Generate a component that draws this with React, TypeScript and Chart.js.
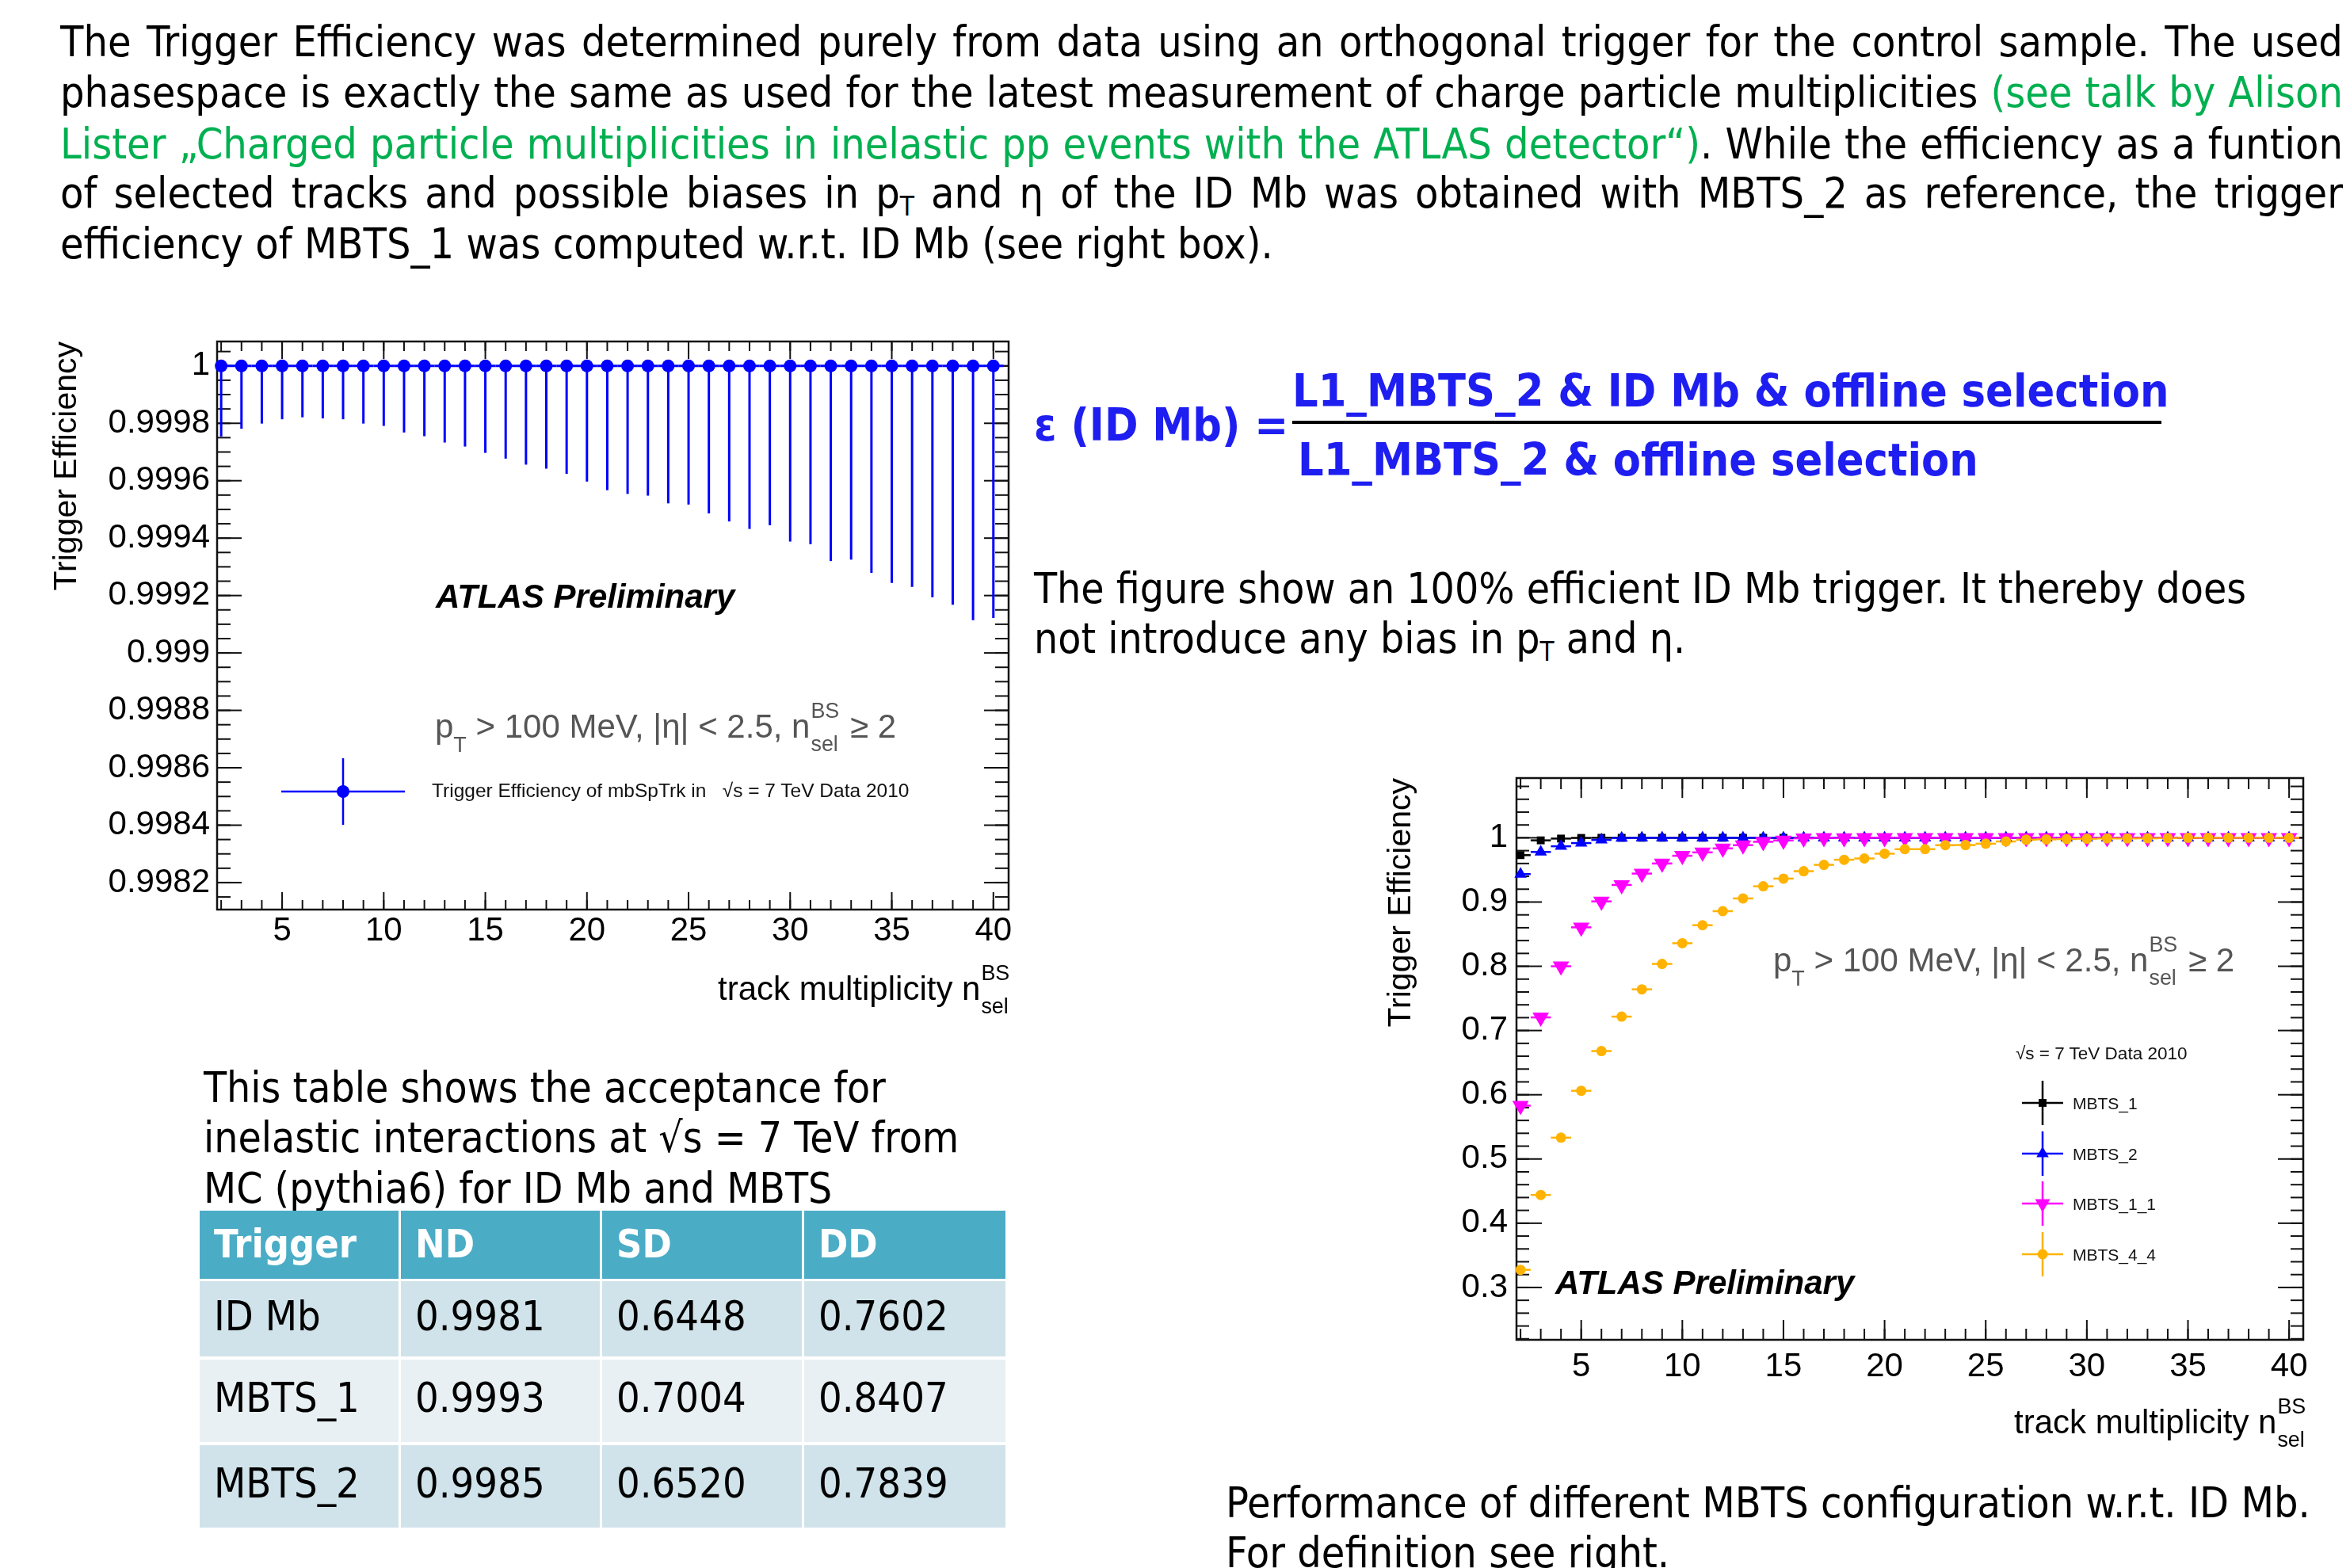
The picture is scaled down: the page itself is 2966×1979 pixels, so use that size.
import React, { useEffect, useRef } from 'react';
import { Chart, registerables } from 'chart.js';

Chart.register(...registerables);

// ------------------------------------------------------------------ data
const N_SEL = [2, 3, 4, 5, 6, 7, 8, 9, 10, 11, 12, 13, 14, 15, 16, 17, 18, 19, 20, 21, 22, 23, 24, 25, 26, 27, 28, 29, 30, 31, 32, 33, 34, 35, 36, 37, 38, 39, 40];
const BIN_HALF_WIDTH = 0.5;

// ID Mb trigger efficiency (left plot) and its lower error
const IDMB_EFF = [1, 1, 1, 1, 1, 1, 1, 1, 1, 1, 1, 1, 1, 1, 1, 1, 1, 1, 1, 1, 1, 1, 1, 1, 1, 1, 1, 1, 1, 1, 1, 1, 1, 1, 1, 1, 1, 1, 1];
const IDMB_ERR_LOW = [
  0.000246, 0.000219, 0.000201, 0.000186, 0.000179, 0.000183, 0.000186, 0.000201, 0.000209, 0.000232,
  0.000245, 0.000267, 0.000281, 0.000303, 0.000323, 0.000344, 0.000358, 0.000376, 0.000403, 0.000433,
  0.000446, 0.000452, 0.000479, 0.000483, 0.000514, 0.000542, 0.000568, 0.000555, 0.000612, 0.000621,
  0.00068, 0.000675, 0.000721, 0.000756, 0.00077, 0.000806, 0.000832, 0.000886, 0.000878,
];

// MBTS configurations w.r.t. ID Mb (right plot)
const MBTS_1 = [0.973, 0.996, 0.9988, 0.9998, 1, 1, 1, 1, 1, 1, 1, 1, 1, 1, 1, 1, 1, 1, 1, 1, 1, 1, 1, 1, 1, 1, 1, 1, 1, 1, 1, 1, 1, 1, 1, 1, 1, 1, 1];
const MBTS_2 = [0.9435, 0.978, 0.9868, 0.9918, 0.9967, 0.9995, 1, 1, 1, 1, 1, 1, 1, 1, 1, 1, 1, 1, 1, 1, 1, 1, 1, 1, 1, 1, 1, 1, 1, 1, 1, 1, 1, 1, 1, 1, 1, 1, 1];
const MBTS_1_1 = [0.583, 0.7204, 0.8, 0.8606, 0.901, 0.9266, 0.9443, 0.96, 0.972, 0.9773, 0.9835, 0.9885, 0.9938, 0.9959, 0.9992, 1, 0.9995, 1, 1, 1, 1, 1, 1, 1, 1, 1, 1, 1, 1, 1, 1, 1, 1, 1, 1, 1, 1, 1, 1];
const MBTS_4_4 = [0.3275, 0.444, 0.5332, 0.6062, 0.668, 0.7216, 0.7641, 0.8037, 0.8359, 0.8639, 0.8858, 0.9056, 0.9245, 0.9365, 0.948, 0.9579, 0.9658, 0.9678, 0.9753, 0.9823, 0.9823, 0.9885, 0.9887, 0.9908, 0.9943, 0.997, 0.9975, 0.998, 0.9985, 0.999, 0.999, 0.9992, 0.9995, 1, 1, 1, 1, 1, 1];

const X_TICKS = [5, 10, 15, 20, 25, 30, 35, 40];
const X_TICK_LABELS = ['5', '10', '15', '20', '25', '30', '35', '40'];
const LEFT_Y_TICKS = [0.9982, 0.9984, 0.9986, 0.9988, 0.999, 0.9992, 0.9994, 0.9996, 0.9998, 1];
const LEFT_Y_TICK_LABELS = ['0.9982', '0.9984', '0.9986', '0.9988', '0.999', '0.9992', '0.9994', '0.9996', '0.9998', '1'];
const RIGHT_Y_TICKS = [0.3, 0.4, 0.5, 0.6, 0.7, 0.8, 0.9, 1];
const RIGHT_Y_TICK_LABELS = ['0.3', '0.4', '0.5', '0.6', '0.7', '0.8', '0.9', '1'];

const RIGHT_SERIES_NAMES = ['MBTS_1', 'MBTS_2', 'MBTS_1_1', 'MBTS_4_4'];

const TABLE_HEADER = ['Trigger', 'ND', 'SD', 'DD'];
const TABLE_TRIGGERS = ['ID Mb', 'MBTS_1', 'MBTS_2'];
const TABLE_ND = ['0.9981', '0.9993', '0.9985'];
const TABLE_SD = ['0.6448', '0.7004', '0.6520'];
const TABLE_DD = ['0.7602', '0.8407', '0.7839'];

// ------------------------------------------------------------------ styles
const ROOT_FONT = '"Liberation Sans", Arimo, Helvetica, Arial, sans-serif';
const BODY_FONT = '"DejaVu Sans Condensed", "DejaVu Sans", sans-serif';
const GREEN = '#00B050';
const FORMULA_BLUE = '#1E1EF0';

function tickRange(from: number, to: number, step: number) {
  const out: number[] = [];
  const n = Math.round((to - from) / step);
  for (let i = 0; i <= n; i++) out.push(+(from + i * step).toFixed(6));
  return out;
}

type MarkerStyle = 'circle' | 'rect' | 'triangle';

function drawMarker(ctx: CanvasRenderingContext2D, style: MarkerStyle, x: number, y: number, r: number, rot: number, color: string) {
  ctx.fillStyle = color;
  ctx.beginPath();
  if (style === 'circle') {
    ctx.arc(x, y, r, 0, Math.PI * 2);
  } else if (style === 'rect') {
    const s = r * Math.SQRT1_2;
    ctx.rect(x - s, y - s, 2 * s, 2 * s);
  } else {
    const base = (rot * Math.PI) / 180;
    for (let k = 0; k < 3; k++) {
      const a = base - Math.PI / 2 + (k * 2 * Math.PI) / 3;
      const px = x + r * Math.cos(a);
      const py = y + r * Math.sin(a);
      if (k === 0) ctx.moveTo(px, py);
      else ctx.lineTo(px, py);
    }
    ctx.closePath();
  }
  ctx.fill();
}

type FrameCfg = {
  xMajor: number[];
  xMinor: number[];
  yMajor: number[];
  yMinor: number[];
  xMaj: number;
  xMin: number;
  yMaj: number;
  yMin: number;
  legend: { x: number; y: number; color: string; style: MarkerStyle; r: number; rot: number; hw: number; hh: number }[];
};

function framePlugin(cfg: FrameCfg) {
  return {
    id: 'rootFrame',
    beforeDatasetsDraw(chart: any) {
      const { ctx, chartArea: a } = chart;
      const xs = chart.scales.x;
      const ys = chart.scales.y;
      const seg = (x1: number, y1: number, x2: number, y2: number) => {
        ctx.beginPath();
        ctx.moveTo(x1, y1);
        ctx.lineTo(x2, y2);
        ctx.stroke();
      };
      ctx.save();
      ctx.strokeStyle = '#111';
      ctx.lineWidth = 2;
      const xt = (vals: number[], len: number) =>
        vals.forEach((v) => {
          const p = xs.getPixelForValue(v);
          if (p < a.left - 0.5 || p > a.right + 0.5) return;
          seg(p, a.bottom, p, a.bottom - len);
          seg(p, a.top, p, a.top + len);
        });
      const yt = (vals: number[], len: number) =>
        vals.forEach((v) => {
          const p = ys.getPixelForValue(v);
          if (p < a.top - 0.5 || p > a.bottom + 0.5) return;
          seg(a.left, p, a.left + len, p);
          seg(a.right, p, a.right - len, p);
        });
      xt(cfg.xMinor, cfg.xMin);
      xt(cfg.xMajor, cfg.xMaj);
      yt(cfg.yMinor, cfg.yMin);
      yt(cfg.yMajor, cfg.yMaj);
      ctx.lineWidth = 2.5;
      ctx.strokeRect(a.left, a.top, a.right - a.left, a.bottom - a.top);

      // error bars from the data
      ctx.beginPath();
      ctx.rect(a.left, a.top, a.right - a.left, a.bottom - a.top);
      ctx.clip();
      const dss = chart.data.datasets.map((d: any, i: number) => ({ d, i })).sort((p: any, q: any) => (q.d.order || 0) - (p.d.order || 0));
      dss.forEach(({ d }: any) => {
        ctx.strokeStyle = d.errColor;
        ctx.lineWidth = d.errWidth;
        d.data.forEach((pt: any, j: number) => {
          const px = xs.getPixelForValue(pt.x);
          const py = ys.getPixelForValue(pt.y);
          seg(xs.getPixelForValue(pt.x - d.xErr), py, xs.getPixelForValue(pt.x + d.xErr), py);
          const lo = d.errLow ? d.errLow[j] : 0;
          const hi = d.errHigh ? d.errHigh[j] : 0;
          if (lo || hi) seg(px, ys.getPixelForValue(pt.y - lo), px, ys.getPixelForValue(pt.y + hi));
        });
      });
      ctx.restore();
    },
    afterDatasetsDraw(chart: any) {
      const { ctx } = chart;
      ctx.save();
      cfg.legend.forEach((l) => {
        ctx.strokeStyle = l.color;
        ctx.lineWidth = 2.5;
        ctx.beginPath();
        ctx.moveTo(l.x - l.hw, l.y);
        ctx.lineTo(l.x + l.hw, l.y);
        ctx.moveTo(l.x, l.y - l.hh);
        ctx.lineTo(l.x, l.y + l.hh);
        ctx.stroke();
        drawMarker(ctx, l.style, l.x, l.y, l.r, l.rot, l.color);
      });
      ctx.restore();
    },
  };
}

function axisOptions(o: {
  xMin: number; xMax: number; yMin: number; yMax: number;
  yTicks: number[]; yLabels: string[];
  yWidth: number; xHeight: number; xPad: number; yPad: number; titlePad: number;
}) {
  const tickFont = { family: ROOT_FONT, size: 42 };
  return {
    x: {
      type: 'linear',
      min: o.xMin,
      max: o.xMax,
      grid: { display: false, drawTicks: false },
      border: { display: false },
      afterBuildTicks: (s: any) => {
        s.ticks = X_TICKS.map((v) => ({ value: v }));
      },
      ticks: {
        autoSkip: false,
        maxRotation: 0,
        minRotation: 0,
        color: '#000',
        font: tickFont,
        padding: o.xPad,
        callback: (_v: any, i: number) => X_TICK_LABELS[i],
      },
      afterFit: (s: any) => {
        s.height = o.xHeight;
        s.paddingLeft = 0;
        s.paddingRight = 0;
      },
    },
    y: {
      type: 'linear',
      min: o.yMin,
      max: o.yMax,
      grid: { display: false, drawTicks: false },
      border: { display: false },
      afterBuildTicks: (s: any) => {
        s.ticks = o.yTicks.map((v) => ({ value: v }));
      },
      ticks: {
        autoSkip: false,
        color: '#000',
        font: tickFont,
        padding: o.yPad,
        callback: (_v: any, i: number) => o.yLabels[i],
      },
      title: {
        display: true,
        text: 'Trigger Efficiency',
        align: 'end',
        color: '#000',
        font: { family: ROOT_FONT, size: 41 },
        padding: { top: o.titlePad, bottom: 0 },
      },
      afterFit: (s: any) => {
        s.width = o.yWidth;
        s.paddingTop = 0;
        s.paddingBottom = 0;
      },
    },
  };
}

function LeftChart() {
  const ref = useRef<HTMLCanvasElement | null>(null);
  useEffect(() => {
    if (!ref.current) return;
    const chart = new Chart(ref.current, {
      type: 'scatter',
      data: {
        datasets: [
          {
            label: 'Trigger Efficiency of mbSpTrk',
            data: N_SEL.map((n, i) => ({ x: n, y: IDMB_EFF[i] })),
            backgroundColor: '#0000FF',
            borderColor: '#0000FF',
            pointRadius: 8,
            pointBorderWidth: 0,
            pointStyle: 'circle',
            clip: 12,
            errLow: IDMB_ERR_LOW,
            xErr: BIN_HALF_WIDTH,
            errColor: '#0000FF',
            errWidth: 3,
          } as any,
        ],
      },
      options: {
        animation: false,
        responsive: false,
        devicePixelRatio: 1,
        layout: { padding: { left: 0, right: 27, top: 31, bottom: 0 } },
        plugins: { legend: { display: false }, tooltip: { enabled: false } },
        scales: axisOptions({
          xMin: 1.8, xMax: 40.75, yMin: 0.998106, yMax: 1.000085,
          yTicks: LEFT_Y_TICKS, yLabels: LEFT_Y_TICK_LABELS,
          yWidth: 274, xHeight: 152, xPad: 2, yPad: 9, titlePad: 60,
        }) as any,
      },
      plugins: [
        framePlugin({
          xMajor: X_TICKS,
          xMinor: tickRange(2, 40, 1),
          yMajor: LEFT_Y_TICKS,
          yMinor: tickRange(0.99815, 1.00005, 0.00005),
          xMaj: 22, xMin: 12, yMaj: 31, yMin: 17,
          legend: [{ x: 433, y: 599, color: '#0000FF', style: 'circle', r: 8, rot: 0, hw: 78, hh: 42 }],
        }) as any,
      ],
    });
    return () => chart.destroy();
  }, []);
  return <canvas ref={ref} width={1300} height={900} style={{ display: 'block', width: 1300, height: 900 }} />;
}

function RightChart() {
  const ref = useRef<HTMLCanvasElement | null>(null);
  useEffect(() => {
    if (!ref.current) return;
    const mk = (name: string, vals: number[], color: string, style: string, r: number, rot: number, order: number) =>
      ({
        label: name,
        data: N_SEL.map((n, i) => ({ x: n, y: vals[i] })),
        backgroundColor: color,
        borderColor: color,
        pointRadius: r,
        pointBorderWidth: 0,
        pointStyle: style,
        pointRotation: rot,
        order,
        clip: 14,
        xErr: BIN_HALF_WIDTH,
        errColor: color,
        errWidth: 2.5,
      } as any);
    const chart = new Chart(ref.current, {
      type: 'scatter',
      data: {
        datasets: [
          mk(RIGHT_SERIES_NAMES[0], MBTS_1, '#000000', 'rect', 7, 0, 3),
          mk(RIGHT_SERIES_NAMES[1], MBTS_2, '#0000FF', 'triangle', 9, 0, 2),
          mk(RIGHT_SERIES_NAMES[2], MBTS_1_1, '#FF00FF', 'triangle', 12, 180, 1),
          mk(RIGHT_SERIES_NAMES[3], MBTS_4_4, '#FFB300', 'circle', 6.5, 0, 0),
        ],
      },
      options: {
        animation: false,
        responsive: false,
        devicePixelRatio: 1,
        layout: { padding: { left: 0, right: 59, top: 32, bottom: 0 } },
        plugins: { legend: { display: false }, tooltip: { enabled: false } },
        scales: axisOptions({
          xMin: 1.8, xMax: 40.7, yMin: 0.2185, yMax: 1.093,
          yTicks: RIGHT_Y_TICKS, yLabels: RIGHT_Y_TICK_LABELS,
          yWidth: 214, xHeight: 159, xPad: 9, yPad: 11, titlePad: 44,
        }) as any,
      },
      plugins: [
        framePlugin({
          xMajor: X_TICKS,
          xMinor: tickRange(2, 40, 1),
          yMajor: RIGHT_Y_TICKS,
          yMinor: tickRange(0.22, 1.08, 0.02),
          xMaj: 25, xMin: 14, yMaj: 32, yMin: 16,
          legend: [
            { x: 878, y: 442, color: '#000000', style: 'rect', r: 7, rot: 0, hw: 26, hh: 28 },
            { x: 878, y: 506, color: '#0000FF', style: 'triangle', r: 9, rot: 0, hw: 26, hh: 28 },
            { x: 878, y: 569, color: '#FF00FF', style: 'triangle', r: 11, rot: 180, hw: 26, hh: 28 },
            { x: 878, y: 633, color: '#FFB300', style: 'circle', r: 6.5, rot: 0, hw: 26, hh: 28 },
          ],
        }) as any,
      ],
    });
    return () => chart.destroy();
  }, []);
  return <canvas ref={ref} width={1266} height={900} style={{ display: 'block', width: 1266, height: 900 }} />;
}

// ------------------------------------------------------------------ text helpers
const bodyText: React.CSSProperties = {
  fontFamily: BODY_FONT,
  fontStretch: 'condensed',
  fontSize: 53.5,
  lineHeight: '64px',
  color: '#000',
  whiteSpace: 'nowrap',
};

function withSub(text: string, key: string | number) {
  if (!text.includes('p_T')) return <React.Fragment key={key}>{text}</React.Fragment>;
  const parts = text.split('p_T');
  return (
    <React.Fragment key={key}>
      {parts.map((p, i) => (
        <React.Fragment key={i}>
          {p}
          {i < parts.length - 1 && (
            <>
              p<sub style={{ fontSize: '0.62em', verticalAlign: '-0.3em', lineHeight: 0 }}>T</sub>
            </>
          )}
        </React.Fragment>
      ))}
    </React.Fragment>
  );
}

// words with runs; [[ ... ]] marks green text
function parseLine(src: string) {
  const words: { t: string; g: boolean }[][] = [];
  let green = false;
  let cur: { t: string; g: boolean }[] = [];
  let buf = '';
  const flushRun = () => {
    if (buf) cur.push({ t: buf, g: green });
    buf = '';
  };
  for (let i = 0; i < src.length; i++) {
    if (src.startsWith('[[', i)) { flushRun(); green = true; i++; continue; }
    if (src.startsWith(']]', i)) { flushRun(); green = false; i++; continue; }
    const ch = src[i];
    if (ch === ' ') {
      flushRun();
      if (cur.length) words.push(cur);
      cur = [];
    } else buf += ch;
  }
  flushRun();
  if (cur.length) words.push(cur);
  return words;
}

function JustLine({ src, left, top, width }: { src: string; left: number; top: number; width: number }) {
  const words = parseLine(src);
  return (
    <div style={{ ...bodyText, position: 'absolute', left, top, width, display: 'flex', justifyContent: 'space-between' }}>
      {words.map((w, i) => (
        <span key={i}>
          {w.map((r, k) => (
            <span key={k} style={{ color: r.g ? GREEN : '#000' }}>{withSub(r.t, k)}</span>
          ))}
        </span>
      ))}
    </div>
  );
}

function Txt({ left, top, children, style }: { left: number; top: number; children: React.ReactNode; style?: React.CSSProperties }) {
  return <div style={{ ...bodyText, position: 'absolute', left, top, ...style }}>{children}</div>;
}

function NSel({ size }: { size: number }) {
  const s = size * 0.64;
  return (
    <span>
      n
      <span style={{ position: 'relative', display: 'inline-block', width: s * 1.45, height: 0 }}>
        <span style={{ position: 'absolute', left: 1, top: -size * 1.12, fontSize: s, lineHeight: 1 }}>BS</span>
        <span style={{ position: 'absolute', left: 1, top: -size * 0.12, fontSize: s, lineHeight: 1 }}>sel</span>
      </span>
    </span>
  );
}

function PtCut({ left, top }: { left: number; top: number }) {
  return (
    <div style={{ position: 'absolute', left, top, fontFamily: ROOT_FONT, fontSize: 42, lineHeight: 1, color: '#555', whiteSpace: 'nowrap' }}>
      p<span style={{ position: 'relative', top: 18, fontSize: 27 }}>T</span> &gt; 100 MeV, |η| &lt; 2.5, <NSel size={42} /> ≥ 2
    </div>
  );
}

function Atlas({ left, top }: { left: number; top: number }) {
  return (
    <div style={{ position: 'absolute', left, top, fontFamily: ROOT_FONT, fontSize: 42, lineHeight: 1, fontWeight: 'bold', fontStyle: 'italic', color: '#000', whiteSpace: 'nowrap' }}>
      ATLAS Preliminary
    </div>
  );
}

function XTitle({ left, top }: { left: number; top: number }) {
  return (
    <div style={{ position: 'absolute', left, top, fontFamily: ROOT_FONT, fontSize: 42, lineHeight: 1, color: '#000', whiteSpace: 'nowrap' }}>
      track multiplicity <NSel size={42} />
    </div>
  );
}

function Small({ left, top, size, children }: { left: number; top: number; size: number; children: React.ReactNode }) {
  return (
    <div style={{ position: 'absolute', left, top, fontFamily: ROOT_FONT, fontSize: size, lineHeight: 1, color: '#111', whiteSpace: 'nowrap' }}>
      {children}
    </div>
  );
}

// ------------------------------------------------------------------ table
const COL_LEFT = [252, 506, 760, 1015];
const COL_W = [251, 251, 252, 254];
const ROW_TOP = [1528, 1617, 1716, 1824];
const ROW_H = [86, 95, 104, 104];
const ROW_BG = ['#4BACC6', '#D0E3EA', '#E9F0F3', '#D0E3EA'];

function DataTable() {
  const rows = [TABLE_HEADER, ...TABLE_TRIGGERS.map((t, i) => [t, TABLE_ND[i], TABLE_SD[i], TABLE_DD[i]])];
  return (
    <>
      {rows.map((row, r) =>
        row.map((cell, c) => (
          <div
            key={`${r}-${c}`}
            style={{
              position: 'absolute',
              left: COL_LEFT[c],
              top: ROW_TOP[r],
              width: COL_W[c],
              height: ROW_H[r],
              background: ROW_BG[r],
              display: 'flex',
              alignItems: 'center',
              boxSizing: 'border-box',
              paddingLeft: 18,
              paddingBottom: r === 0 ? 2 : 8,
              fontFamily: BODY_FONT,
              fontStretch: 'condensed',
              fontSize: r === 0 ? 50 : 52,
              fontWeight: r === 0 ? 'bold' : 'normal',
              color: r === 0 ? '#fff' : '#000',
              whiteSpace: 'nowrap',
            }}
          >
            {cell}
          </div>
        ))
      )}
    </>
  );
}

// ------------------------------------------------------------------ app
export default function App() {
  const formulaFont: React.CSSProperties = {
    position: 'absolute',
    fontFamily: BODY_FONT,
    fontStretch: 'condensed',
    fontWeight: 'bold',
    fontSize: 57,
    lineHeight: 1,
    color: FORMULA_BLUE,
    whiteSpace: 'nowrap',
  };
  const s53: React.CSSProperties = { fontSize: 53 };
  return (
    <div style={{ position: 'absolute', left: 0, top: 0, width: 2966, height: 1979, overflow: 'hidden', background: '#fff' }}>
      {/* top paragraph */}
      <JustLine left={76} top={21} width={2881} src="The Trigger Efficiency was determined purely from data using an orthogonal trigger for the control sample. The used" />
      <JustLine left={76} top={85} width={2881} src="phasespace is exactly the same as used for the latest measurement of charge particle multiplicities [[(see talk by Alison]]" />
      <JustLine left={76} top={150} width={2881} src="[[Lister „Charged particle multiplicities in inelastic pp events with the ATLAS detector“)]]. While the efficiency as a funtion" />
      <JustLine left={76} top={212} width={2881} src="of selected tracks and possible biases in p_T and η of the ID Mb was obtained with MBTS_2 as reference, the trigger" />
      <Txt left={76} top={276}>efficiency of MBTS_1 was computed w.r.t. ID Mb (see right box).</Txt>

      {/* left chart */}
      <div style={{ position: 'absolute', left: 0, top: 400, width: 1300, height: 900 }}>
        <LeftChart />
      </div>
      <Atlas left={550} top={732} />
      <PtCut left={549} top={896} />
      <Small left={545} top={986} size={24.5}>Trigger Efficiency of mbSpTrk in &nbsp;&nbsp;√s = 7 TeV Data 2010</Small>
      <XTitle left={906} top={1227} />

      {/* formula */}
      <div style={{ ...formulaFont, left: 1305, top: 508 }}>ε (ID Mb) =</div>
      <div style={{ ...formulaFont, left: 1631, top: 465 }}>L1_MBTS_2 &amp; ID Mb &amp; offline selection</div>
      <div style={{ position: 'absolute', left: 1631, top: 531, width: 1097, height: 4, background: '#000' }} />
      <div style={{ ...formulaFont, left: 1638, top: 552 }}>L1_MBTS_2 &amp; offline selection</div>

      <Txt left={1305} top={711} style={s53}>The figure show an 100% efficient ID Mb trigger. It thereby does</Txt>
      <Txt left={1305} top={774} style={s53}>not introduce any bias in {withSub('p_T', 'a')} and η.</Txt>

      {/* right chart */}
      <div style={{ position: 'absolute', left: 1700, top: 950, width: 1266, height: 900 }}>
        <RightChart />
      </div>
      <PtCut left={2238} top={1191} />
      <Atlas left={1963} top={1598} />
      <Small left={2544} top={1319} size={22.5}>√s = 7 TeV Data 2010</Small>
      {RIGHT_SERIES_NAMES.map((n, i) => (
        <Small key={n} left={2616} top={[1382, 1446, 1509, 1573][i]} size={21}>{n}</Small>
      ))}
      <XTitle left={2542} top={1774} />

      {/* table caption and table */}
      <Txt left={257} top={1341} style={s53}>This table shows the acceptance for</Txt>
      <Txt left={257} top={1404} style={s53}>inelastic interactions at √s = 7 TeV from</Txt>
      <Txt left={257} top={1468} style={s53}>MC (pythia6) for ID Mb and MBTS</Txt>
      <DataTable />

      {/* right caption */}
      <Txt left={1547} top={1865}>Performance of different MBTS configuration w.r.t. ID Mb.</Txt>
      <Txt left={1547} top={1928}>For definition see right.</Txt>
    </div>
  );
}
